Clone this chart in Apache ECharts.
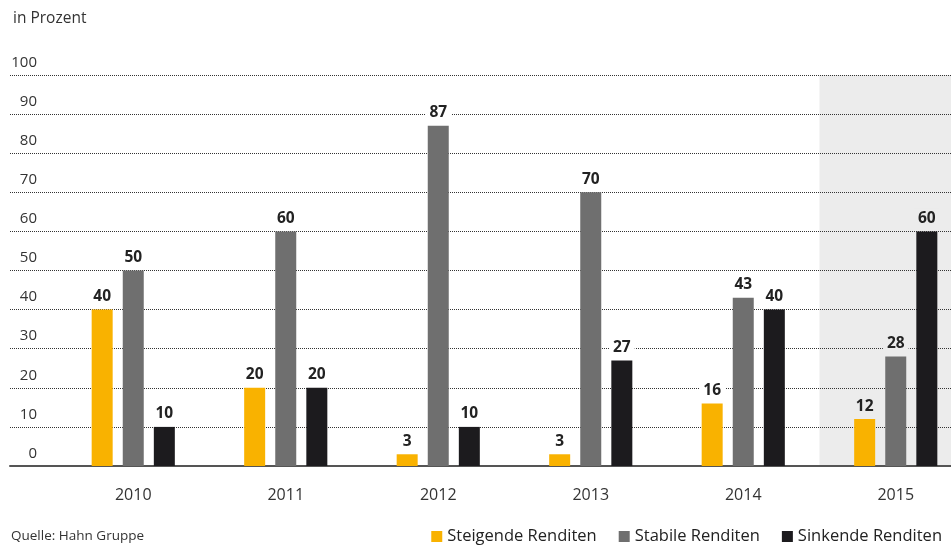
<!DOCTYPE html>
<html>
<head>
<meta charset="utf-8">
<script src="https://cdn.jsdelivr.net/npm/echarts@6/dist/echarts.min.js"></script>
<style>
html,body{margin:0;padding:0;background:#fff;}
#c{width:951px;height:545px;}
</style>
</head>
<body>
<div id="c"></div>
<script>
const years = ['2010', '2011', '2012', '2013', '2014', '2015'];
const steigende = [40, 20, 3, 3, 16, 12];
const stabile = [50, 60, 87, 70, 43, 28];
const sinkende = [10, 20, 10, 27, 40, 60];
const seriesNames = ['Steigende Renditen', 'Stabile Renditen', 'Sinkende Renditen'];
const highlightIndex = 5;

const FONT = 'Open Sans';
const colors = ['#F9B200', '#6f6f6f', '#1c1b1e'];
const shade = '#ececec';

function withLabelBg(arr) {
  return arr.map((v, i) => ({
    value: v,
    label: { backgroundColor: i === highlightIndex ? shade : '#ffffff' }
  }));
}

const chart = echarts.init(document.getElementById('c'));
const labelStyle = {
  show: true, position: 'top', distance: 4,
  fontFamily: FONT, fontSize: 15.5, fontWeight: 'bold', color: '#222',
  padding: [2, 4, 1, 4]
};

chart.setOption({
  animation: false,
  backgroundColor: '#ffffff',
  textStyle: { fontFamily: FONT },
  title: [
    { text: 'in Prozent', left: 8, top: 6, textStyle: { fontFamily: FONT, fontSize: 15.5, fontWeight: 'normal', color: '#333' } },
    { text: 'Quelle: Hahn Gruppe', left: 6, top: 524, textStyle: { fontFamily: FONT, fontSize: 13.5, fontWeight: 'normal', color: '#333' } }
  ],
  legend: {
    right: 4, top: 523, icon: 'rect', itemWidth: 11, itemHeight: 11, itemGap: 22, itemTextGap: 8,
    textStyle: { fontFamily: FONT, fontSize: 16.5, color: '#222' },
    data: seriesNames
  },
  grid: [
    { left: 10, right: 0, top: 75, bottom: 79, outerBoundsMode: 'none' },
    { left: 57, width: 915, top: 75, bottom: 79, outerBoundsMode: 'none', containLabel: false }
  ],
  xAxis: [
    { gridIndex: 0, type: 'value', min: 0, max: 1, show: true,
      axisLine: { show: true, onZero: false, lineStyle: { color: '#555', width: 2 } },
      axisTick: { show: false }, axisLabel: { show: false }, splitLine: { show: false }, z: 2 },
    { gridIndex: 1, type: 'category', data: years,
      axisLine: { show: false }, axisTick: { show: false },
      axisLabel: { margin: 21, fontFamily: FONT, fontSize: 16, color: '#333' },
      splitArea: { show: true, areaStyle: { color: ['rgba(0,0,0,0)', 'rgba(0,0,0,0)', 'rgba(0,0,0,0)', 'rgba(0,0,0,0)', 'rgba(0,0,0,0)', shade] } },
      z: 0 }
  ],
  yAxis: [
    { gridIndex: 0, type: 'value', min: 0, max: 100, interval: 10,
      axisLine: { show: false }, axisTick: { show: false },
      axisLabel: { inside: true, margin: 27, align: 'right', verticalAlign: 'bottom', padding: [0, 0, 5, 0],
        fontFamily: FONT, fontSize: 15, color: '#333' },
      splitLine: { show: true, lineStyle: { color: '#333', width: 1, type: [1, 1] } }, z: 1 },
    { gridIndex: 1, type: 'value', min: 0, max: 100, show: false, splitLine: { show: false } }
  ],
  series: [
    { name: seriesNames[0], type: 'bar', xAxisIndex: 1, yAxisIndex: 1, barWidth: 21, barGap: '48%',
      itemStyle: { color: colors[0] }, label: labelStyle, data: withLabelBg(steigende) },
    { name: seriesNames[1], type: 'bar', xAxisIndex: 1, yAxisIndex: 1, barWidth: 21, barGap: '48%',
      itemStyle: { color: colors[1] }, label: labelStyle, data: withLabelBg(stabile) },
    { name: seriesNames[2], type: 'bar', xAxisIndex: 1, yAxisIndex: 1, barWidth: 21, barGap: '48%',
      itemStyle: { color: colors[2] }, label: labelStyle, data: withLabelBg(sinkende) }
  ]
});
</script>
</body>
</html>
